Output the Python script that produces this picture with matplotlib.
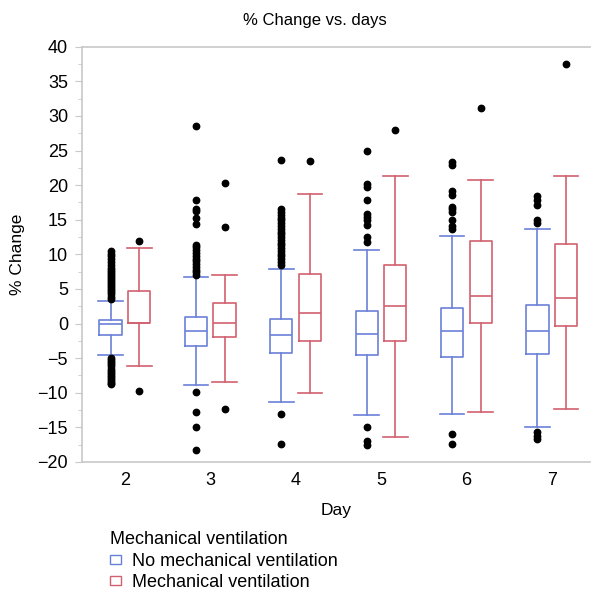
import matplotlib
matplotlib.use("Agg")
import matplotlib.pyplot as plt
from matplotlib.patches import Patch
import numpy as np

# ============================================================
# DATA
# ============================================================

days = [2, 3, 4, 5, 6, 7]

# No mechanical ventilation
no_q1 = [-1.7, -3.2, -4.3, -4.5, -4.8, -4.4]
no_med = [-0.1, -1.1, -1.6, -1.5, -1.1, -1.1]
no_q3 = [0.5, 1.0, 0.7, 1.8, 2.3, 2.7]
no_lo = [-4.6, -8.9, -11.3, -13.2, -13.1, -14.9]
no_hi = [3.3, 6.7, 7.9, 10.6, 12.7, 13.7]
no_fliers = [
    [3.6, 3.9, 4.2, 4.5, 4.8, 5.1, 5.4, 5.7, 6.0, 6.3, 6.6, 6.9, 7.2, 7.5,
     7.8, 8.1, 8.5, 8.9, 9.3, 9.7, 10.1, 10.5,
     -5.0, -5.3, -5.6, -5.9, -6.2, -6.5, -6.8, -7.1, -7.4, -7.7, -8.0,
     -8.3, -8.6, -8.8],
    [7.0, 7.4, 7.8, 8.2, 8.6, 9.0, 9.4, 9.8, 10.2, 10.6, 11.0, 11.4,
     14.4, 15.2, 16.3, 16.6, 17.9, 28.6,
     -9.9, -12.8, -14.9, -18.3],
    [8.5, 8.9, 9.3, 9.7, 10.1, 10.5, 10.9, 11.3, 11.7, 12.1, 12.5, 12.9,
     13.3, 13.7, 14.1, 14.5, 14.9, 15.3, 15.7, 16.1, 16.5, 23.7,
     -13.0, -17.4],
    [11.8, 12.5, 14.2, 14.9, 15.4, 15.8, 17.9, 19.8, 20.2, 24.9,
     -14.9, -16.9, -17.6],
    [13.7, 14.1, 15.0, 16.1, 16.5, 16.9, 18.6, 19.1, 22.9, 23.3,
     -16.0, -17.4],
    [14.6, 15.0, 17.2, 17.9, 18.4,
     -15.7, -16.2, -16.7],
]

# Mechanical ventilation
mv_q1 = [0.1, -2.0, -2.5, -2.5, 0.1, -0.3]
mv_med = [0.1, 0.1, 1.5, 2.6, 4.0, 3.7]
mv_q3 = [4.7, 2.9, 7.2, 8.4, 11.9, 11.5]
mv_lo = [-6.1, -8.4, -10.0, -16.4, -12.8, -12.3]
mv_hi = [10.9, 7.0, 18.7, 21.3, 20.7, 21.3]
mv_fliers = [
    [12.0, -9.8],
    [13.9, 20.3, -12.4],
    [23.5],
    [27.9],
    [31.2],
    [37.5],
]

group_labels = ["No mechanical ventilation", "Mechanical ventilation"]
BLUE = "#6a80d8"
RED = "#d2606f"

# ============================================================
# HELPERS
# ============================================================

def make_stats(q1, med, q3, lo, hi, fliers):
    stats = []
    for i in range(len(q1)):
        stats.append({
            "q1": q1[i], "med": med[i], "q3": q3[i],
            "whislo": lo[i], "whishi": hi[i],
            "fliers": np.array(fliers[i]),
        })
    return stats


def draw_group(ax, stats, offset, color):
    pos = [d + offset for d in days]
    line = dict(color=color, linewidth=1.2)
    ax.bxp(
        stats, positions=pos, widths=0.26, capwidths=0.29,
        boxprops=line, whiskerprops=line, capprops=line, medianprops=line,
        flierprops=dict(marker="o", markerfacecolor="black",
                        markeredgecolor="black", markersize=4.6),
        manage_ticks=False,
    )


# ============================================================
# PLOT
# ============================================================

plt.rcParams["font.family"] = ["Liberation Sans", "DejaVu Sans"]

fig = plt.figure(figsize=(5.95, 5.92), dpi=100)
ax = fig.add_axes([0.1378, 0.2196, 0.8538, 0.7015])

draw_group(ax, make_stats(no_q1, no_med, no_q3, no_lo, no_hi, no_fliers), -0.165, BLUE)
draw_group(ax, make_stats(mv_q1, mv_med, mv_q3, mv_lo, mv_hi, mv_fliers), 0.17, RED)

ax.set_xlim(1.5, 7.45)
ax.set_ylim(-20, 40)
ax.set_xticks(days)
ax.set_xticklabels([str(d) for d in days])
ax.set_yticks(np.arange(-20, 41, 5))
ax.set_yticklabels([str(v).replace("-", "\u2212") for v in range(-20, 41, 5)])
ax.set_yticks(np.arange(-17.5, 40, 5), minor=True)

ax.tick_params(axis="y", which="major", length=5, color="#c8c8c8",
               labelsize=13, pad=5)
ax.tick_params(axis="y", which="minor", length=3, color="#c8c8c8")
ax.tick_params(axis="x", length=0, labelsize=13, pad=7)

for side in ["left", "bottom", "top"]:
    ax.spines[side].set_color("#c8c8c8")
    ax.spines[side].set_linewidth(1.2)
ax.spines["right"].set_visible(False)

fig.text(315 / 595, 1 - 20 / 592, "% Change vs. days", fontsize=12,
         ha="center", va="center")
ax.set_xlabel("Day", fontsize=12.5, labelpad=10)
ax.set_ylabel("% Change", fontsize=12.5, labelpad=9)

handles = [Patch(facecolor="white", edgecolor=BLUE, linewidth=1.0),
           Patch(facecolor="white", edgecolor=RED, linewidth=1.0)]
leg = fig.legend(handles, group_labels, title="Mechanical ventilation",
                 loc="upper left", bbox_to_anchor=(0.185, 0.103),
                 frameon=False, fontsize=13, title_fontsize=13,
                 handlelength=0.6, handleheight=0.4, handletextpad=0.6,
                 labelspacing=0.25, borderpad=0, borderaxespad=0,
                 alignment="left")

fig.savefig("out.png", dpi=100)
